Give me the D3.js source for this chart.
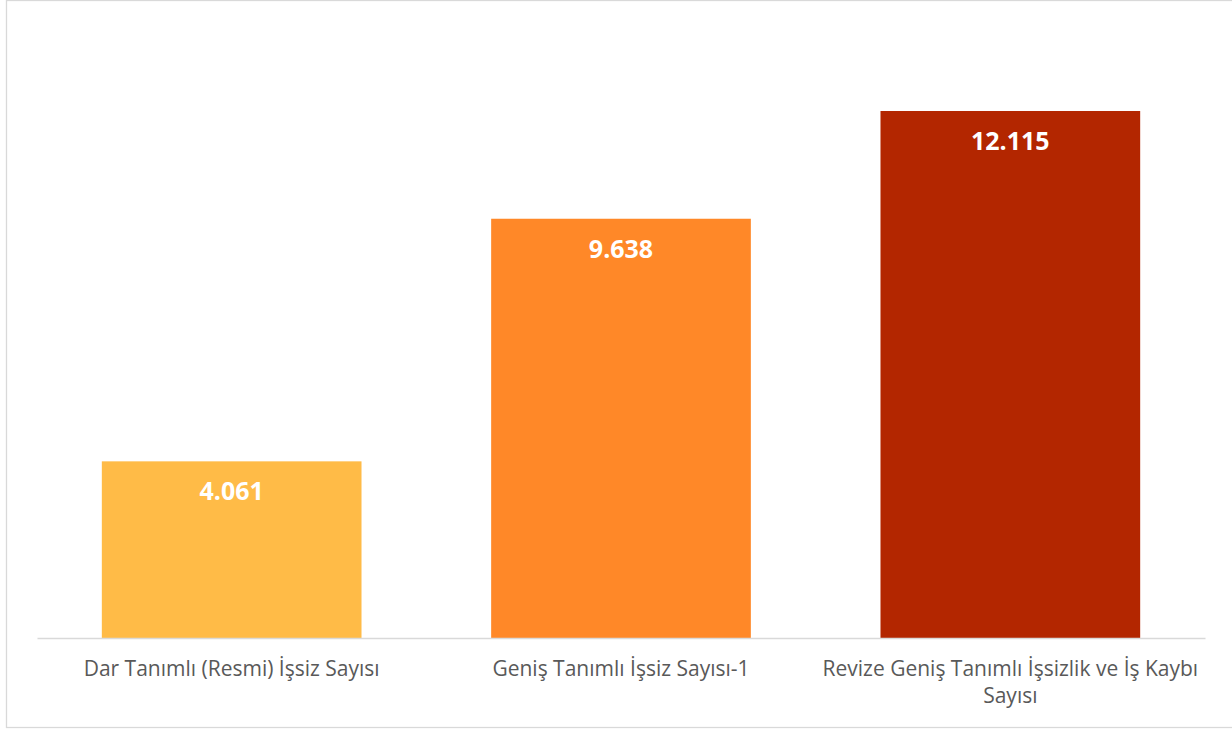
<!DOCTYPE html>
<html>
<head>
<meta charset="utf-8">
<script src="https://cdn.jsdelivr.net/npm/d3@7"></script>
<style>
  body { margin: 0; background: #fff; }
  svg { display: block; }
</style>
</head>
<body>
<div id="chart"></div>
<script>
const categories = [
  "Dar Tanımlı (Resmi) İşsiz Sayısı",
  "Geniş Tanımlı İşsiz Sayısı-1",
  "Revize Geniş Tanımlı İşsizlik ve İş Kaybı Sayısı"
];
const values = [4061, 9638, 12115];
const valueLabels = ["4.061", "9.638", "12.115"];
const barColors = ["#FFBB47", "#FF8828", "#B32600"];

const W = 1232, H = 729;
const margin = {top: 29, right: 27, bottom: 91, left: 37};

let svg = d3.select("#chart")
  .append("svg")
  .attr("width", W)
  .attr("height", H);

// chart frame
svg.append("rect")
  .attr("x", 6.5).attr("y", 0.5)
  .attr("width", W + 10).attr("height", H - 2)
  .attr("fill", "#fff")
  .attr("stroke", "#d9d9d9")
  .attr("stroke-width", 1.3);

let g = svg.append("g")
  .attr("transform", "translate(" + margin.left + "," + margin.top + ")");

let width = W - margin.left - margin.right,
    height = H - margin.top - margin.bottom;

let x = d3.scaleBand()
  .domain(categories)
  .range([0, width])
  .paddingInner(0.333)
  .paddingOuter(0.1665);

let y = d3.scaleLinear()
  .domain([0, 14000])
  .range([height, 0]);

g.selectAll("rect.bar")
  .data(values)
  .enter()
  .append("rect")
    .attr("class", "bar")
    .attr("x", (d, i) => x(categories[i]))
    .attr("y", d => y(d))
    .attr("width", x.bandwidth())
    .attr("height", d => height - y(d))
    .attr("fill", (d, i) => barColors[i]);

g.selectAll("text.val")
  .data(values)
  .enter()
  .append("text")
    .attr("class", "val")
    .attr("x", (d, i) => x(categories[i]) + x.bandwidth() / 2)
    .attr("y", d => y(d) + 39)
    .attr("text-anchor", "middle")
    .attr("fill", "#fff")
    .style("font-family", "'Open Sans', sans-serif")
    .style("font-weight", "bold")
    .style("font-size", "25px")
    .text((d, i) => valueLabels[i]);

// baseline axis
let xAxis = g.append("g")
  .attr("transform", "translate(0," + height + ")")
  .call(d3.axisBottom(x).tickSize(0).tickPadding(0));

xAxis.select(".domain")
  .attr("stroke", "#d9d9d9")
  .attr("stroke-width", 1.5);

xAxis.selectAll(".tick text")
  .attr("fill", "#595959")
  .style("font-family", "'Open Sans', sans-serif")
  .style("font-size", "21px")
  .attr("y", 38)
  .attr("dy", 0)
  .call(wrap, x.step() - 8);

function wrap(texts, maxW) {
  texts.each(function() {
    let text = d3.select(this);
    let words = text.text().split(/\s+/);
    let yy = text.attr("y");
    text.text(null);
    let line = [];
    let lineNo = 0;
    let tspan = text.append("tspan").attr("x", 0).attr("y", yy);
    words.forEach(w => {
      line.push(w);
      tspan.text(line.join(" "));
      if (tspan.node().getComputedTextLength() > maxW && line.length > 1) {
        line.pop();
        tspan.text(line.join(" "));
        line = [w];
        lineNo++;
        tspan = text.append("tspan").attr("x", 0).attr("y", +yy + lineNo * 27).text(w);
      }
    });
  });
}
</script>
</body>
</html>
